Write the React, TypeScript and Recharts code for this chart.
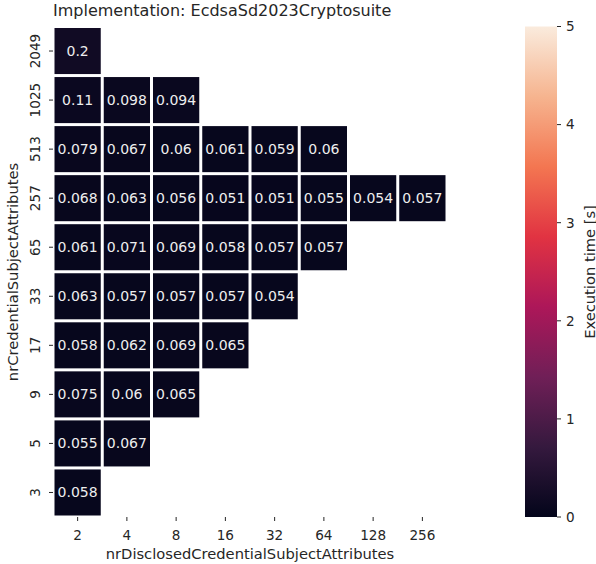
import React from "react";
import { Bar, BarChart, Scatter, ScatterChart, XAxis, YAxis } from "recharts";

const FONT = "'DejaVu Sans', sans-serif";
const INK = "#262626";

// Column / row categories (rows listed bottom to top)
const X_LABELS = ["2", "4", "8", "16", "32", "64", "128", "256"];
const Y_LABELS = ["3", "5", "9", "17", "33", "65", "257", "513", "1025", "2049"];

const ROW_3 = [0.058];
const ROW_5 = [0.055, 0.067];
const ROW_9 = [0.075, 0.06, 0.065];
const ROW_17 = [0.058, 0.062, 0.069, 0.065];
const ROW_33 = [0.063, 0.057, 0.057, 0.057, 0.054];
const ROW_65 = [0.061, 0.071, 0.069, 0.058, 0.057, 0.057];
const ROW_257 = [0.068, 0.063, 0.056, 0.051, 0.051, 0.055, 0.054, 0.057];
const ROW_513 = [0.079, 0.067, 0.06, 0.061, 0.059, 0.06];
const ROW_1025 = [0.11, 0.098, 0.094];
const ROW_2049 = [0.2];

const ROWS = [ROW_3, ROW_5, ROW_9, ROW_17, ROW_33, ROW_65, ROW_257, ROW_513, ROW_1025, ROW_2049];

const COLOR_MAX = 5;
const COLORBAR_TICKS = [0, 1, 2, 3, 4, 5];

// seaborn "rocket" approximated by a few stops
const ROCKET: Array<[number, string]> = [
  [0, "#03051a"],
  [0.143, "#35193e"],
  [0.286, "#701f57"],
  [0.429, "#ad1759"],
  [0.571, "#e13342"],
  [0.714, "#f37651"],
  [0.857, "#f6b48f"],
  [1, "#faebdd"],
];

function hexToRgb(h: string) {
  const n = parseInt(h.slice(1), 16);
  return [(n >> 16) & 255, (n >> 8) & 255, n & 255];
}

function rocket(t: number) {
  const v = Math.max(0, Math.min(1, t));
  for (let i = 1; i < ROCKET.length; i++) {
    const [p1, c1] = ROCKET[i];
    const [p0, c0] = ROCKET[i - 1];
    if (v <= p1) {
      const f = (v - p0) / (p1 - p0);
      const a = hexToRgb(c0);
      const b = hexToRgb(c1);
      const m = a.map((x, k) => Math.round(x + (b[k] - x) * f));
      return `rgb(${m[0]}, ${m[1]}, ${m[2]})`;
    }
  }
  return ROCKET[ROCKET.length - 1][1];
}

const cells = ROWS.flatMap((row, yi) => row.map((v, xi) => ({ xi, yi, v })));

const PLOT_LEFT = 53;
const PLOT_RIGHT = 447;
const PLOT_TOP = 26.5;
const PLOT_BOTTOM = 517;
const CELL_W = (PLOT_RIGHT - PLOT_LEFT) / X_LABELS.length;
const CELL_H = (PLOT_BOTTOM - PLOT_TOP) / Y_LABELS.length;

function HeatCell(props: any) {
  const { cx, cy, payload } = props;
  return (
    <g>
      <rect
        x={cx - CELL_W / 2 + 1.5}
        y={cy - CELL_H / 2 + 1.5}
        width={CELL_W - 3}
        height={CELL_H - 3}
        fill={rocket(payload.v / COLOR_MAX)}
      />
      <text
        x={cx}
        y={cy}
        textAnchor="middle"
        dominantBaseline="central"
        fill="#eeeeee"
        fontSize={14}
        fontFamily={FONT}
      >
        {String(payload.v)}
      </text>
    </g>
  );
}

function YTick(props: any) {
  const { x, y, payload } = props;
  const cx = x - 12;
  return (
    <text
      x={cx}
      y={y}
      transform={`rotate(-90, ${cx}, ${y})`}
      textAnchor="middle"
      dominantBaseline="central"
      fill={INK}
      fontSize={13.6}
      fontFamily={FONT}
    >
      {Y_LABELS[payload.value]}
    </text>
  );
}

const rotated = (left: number, top: number): React.CSSProperties => ({
  position: "absolute",
  left,
  top,
  transform: "translate(-50%, -50%) rotate(-90deg)",
  whiteSpace: "nowrap",
  fontFamily: FONT,
  fontSize: 14.7,
  color: INK,
});

export default function App() {
  return (
    <div style={{ position: "absolute", left: 0, top: 0, width: 596, height: 564, background: "#fff" }}>
      <div
        style={{
          position: "absolute",
          left: 53,
          top: 2,
          fontFamily: FONT,
          fontSize: 16,
          lineHeight: "18px",
          color: INK,
          whiteSpace: "nowrap",
        }}
      >
        Implementation: EcdsaSd2023Cryptosuite
      </div>

      <div style={{ position: "absolute", left: 0, top: 0 }}>
        <ScatterChart
          width={596}
          height={564}
          margin={{ top: PLOT_TOP, right: 596 - PLOT_RIGHT, bottom: 0, left: 0 }}
        >
          <XAxis
            type="number"
            dataKey="xi"
            domain={[-0.5, X_LABELS.length - 0.5]}
            ticks={X_LABELS.map((_, i) => i)}
            tickFormatter={(i: number) => X_LABELS[i]}
            allowDataOverflow
            height={564 - PLOT_BOTTOM}
            axisLine={false}
            tickSize={4}
            tickMargin={9}
            tickLine={{ stroke: INK }}
            tick={{ fill: INK, fontSize: 13.6, fontFamily: FONT }}
          />
          <YAxis
            type="number"
            dataKey="yi"
            domain={[-0.5, Y_LABELS.length - 0.5]}
            ticks={Y_LABELS.map((_, i) => i)}
            allowDataOverflow
            width={PLOT_LEFT}
            axisLine={false}
            tickSize={4}
            tickLine={{ stroke: INK }}
            tick={<YTick />}
          />
          <Scatter data={cells} shape={<HeatCell />} isAnimationActive={false} />
        </ScatterChart>
      </div>

      <div style={{ position: "absolute", left: 525, top: 0 }}>
        <BarChart
          width={72}
          height={564}
          data={[{ k: "cb", v: COLOR_MAX }]}
          margin={{ top: PLOT_TOP, right: 0, bottom: 564 - PLOT_BOTTOM, left: 0 }}
          barCategoryGap={0}
        >
          <defs>
            <linearGradient id="rocketGrad" x1="0" y1="1" x2="0" y2="0">
              {ROCKET.map(([p, c]) => (
                <stop key={p} offset={`${p * 100}%`} stopColor={c} />
              ))}
            </linearGradient>
          </defs>
          <XAxis dataKey="k" hide />
          <YAxis
            orientation="right"
            domain={[0, COLOR_MAX]}
            ticks={COLORBAR_TICKS}
            width={40}
            axisLine={false}
            tickSize={4}
            tickMargin={5}
            tickLine={{ stroke: INK }}
            tick={{ fill: INK, fontSize: 13.6, fontFamily: FONT }}
          />
          <Bar dataKey="v" fill="url(#rocketGrad)" isAnimationActive={false} />
        </BarChart>
      </div>

      <div style={rotated(12, (PLOT_TOP + PLOT_BOTTOM) / 2)}>nrCredentialSubjectAttributes</div>
      <div style={rotated(589, (PLOT_TOP + PLOT_BOTTOM) / 2)}>Execution time [s]</div>
      <div
        style={{
          position: "absolute",
          left: (PLOT_LEFT + PLOT_RIGHT) / 2,
          top: 553,
          transform: "translate(-50%, -50%)",
          whiteSpace: "nowrap",
          fontFamily: FONT,
          fontSize: 14.7,
          color: INK,
        }}
      >
        nrDisclosedCredentialSubjectAttributes
      </div>
    </div>
  );
}
